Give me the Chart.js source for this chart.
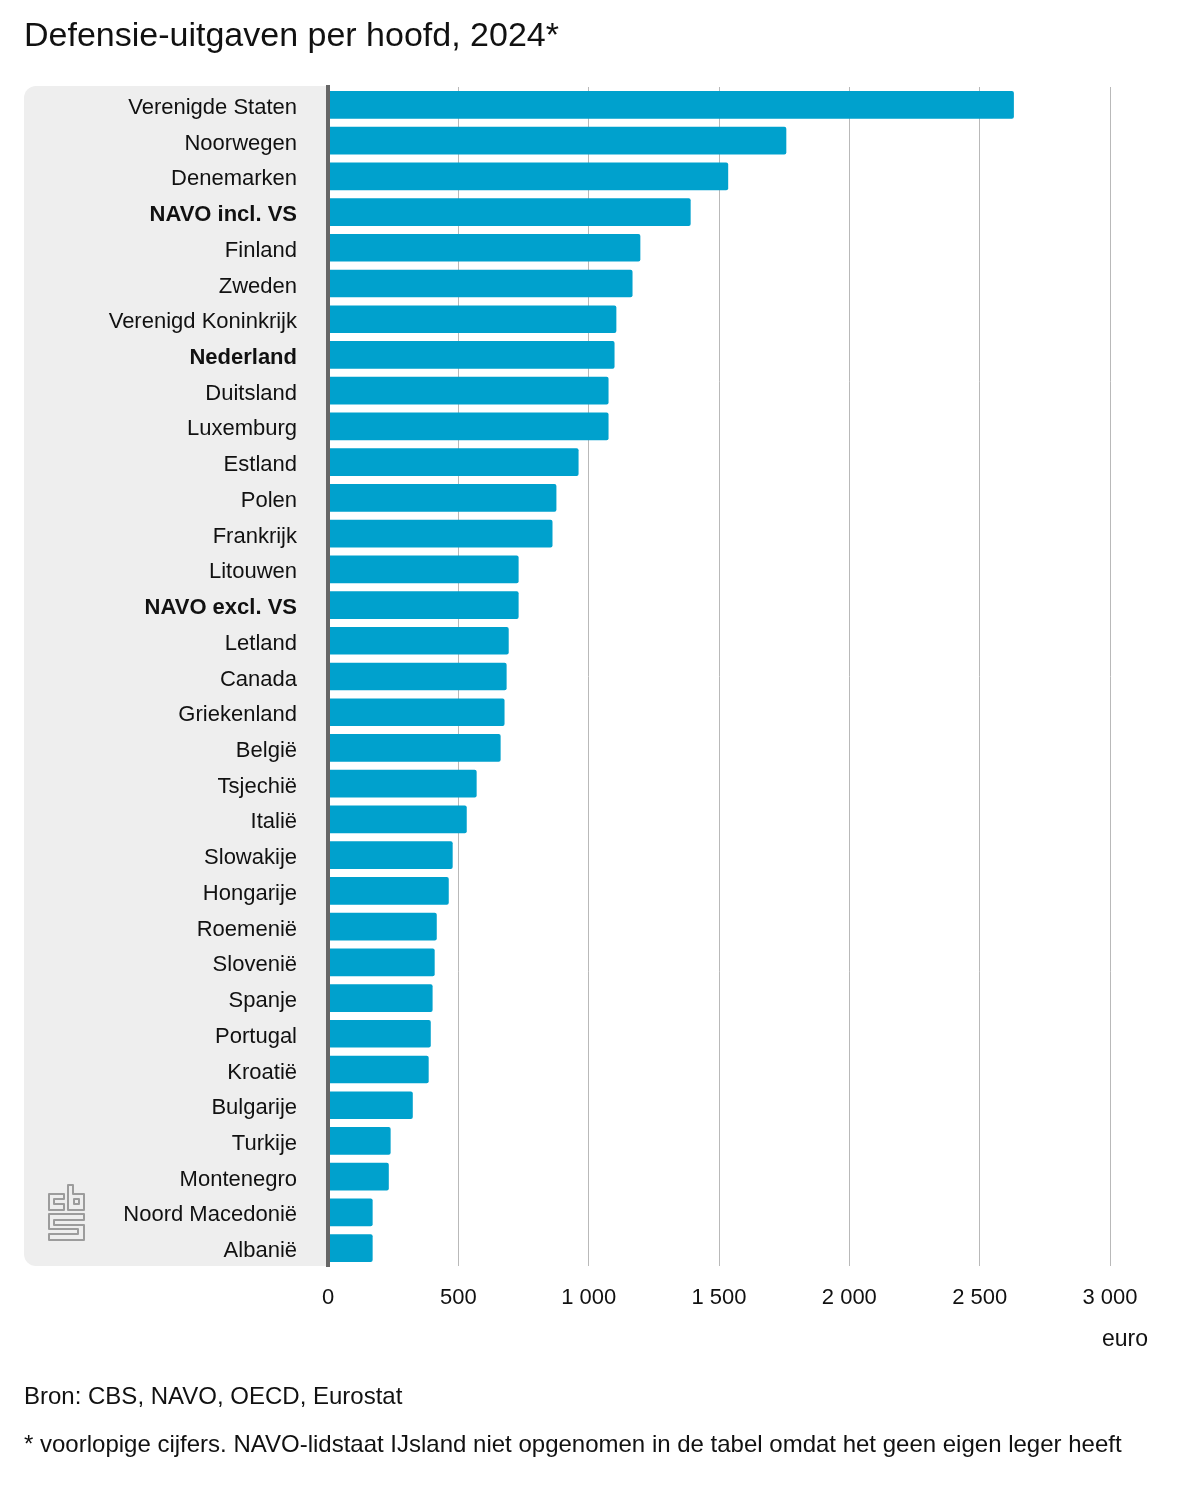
<!DOCTYPE html>
<html lang="nl">
<head>
<meta charset="utf-8">
<title>Defensie-uitgaven per hoofd, 2024</title>
<script src="https://cdn.jsdelivr.net/npm/chart.js@4/dist/chart.umd.min.js"></script>
<style>
  html, body { margin: 0; padding: 0; background: #fff; }
  body { position: relative; width: 1200px; height: 1500px; overflow: hidden; font-family: "Liberation Sans", sans-serif; color: #111; }
  canvas { position: absolute; left: 0; top: 0; }
  .txt { position: absolute; white-space: nowrap; line-height: 1; }
</style>
</head>
<body>
<canvas id="grafiek" width="1200" height="1500"></canvas>
<div class="txt" style="left:24px;top:17px;font-size:34px">Defensie-uitgaven per hoofd, 2024*</div>
<div class="txt" style="right:52px;top:1327px;font-size:23px">euro</div>
<div class="txt" style="left:24px;top:1384px;font-size:24px">Bron: CBS, NAVO, OECD, Eurostat</div>
<div class="txt" style="left:24px;top:1432px;font-size:24px">* voorlopige cijfers. NAVO-lidstaat IJsland niet opgenomen in de tabel omdat het geen eigen leger heeft</div>
<script>
const landen = ["Verenigde Staten", "Noorwegen", "Denemarken", "NAVO incl. VS", "Finland", "Zweden",
  "Verenigd Koninkrijk", "Nederland", "Duitsland", "Luxemburg", "Estland", "Polen", "Frankrijk",
  "Litouwen", "NAVO excl. VS", "Letland", "Canada", "Griekenland", "België", "Tsjechië", "Italië",
  "Slowakije", "Hongarije", "Roemenië", "Slovenië", "Spanje", "Portugal", "Kroatië", "Bulgarije",
  "Turkije", "Montenegro", "Noord Macedonië", "Albanië"];
const uitgaven = [2630, 1757, 1534, 1390, 1197, 1167, 1105, 1098, 1075, 1075, 960, 875, 860,
  730, 730, 692, 684, 676, 661, 569, 531, 477, 462, 416, 408, 400, 393, 385, 324, 239, 232, 170, 170];
const vet = ["NAVO incl. VS", "Nederland", "NAVO excl. VS"];
const xTicks = [0, 500, 1000, 1500, 2000, 2500, 3000];

// grijs vlak achter de labels + cbs logo
const achtergrond = {
  id: "achtergrond",
  beforeDraw(chart) {
    const c = chart.ctx, a = chart.chartArea;
    c.save();
    c.fillStyle = "#eeeeee";
    c.beginPath();
    c.roundRect(24, 86, a.left - 24, a.bottom - 86, [12, 0, 0, 12]);
    c.fill();
    c.strokeStyle = "#9c9c9c";
    c.lineWidth = 2;
    c.lineJoin = "round";
    c.beginPath();
    // c
    c.moveTo(49, 1194); c.lineTo(64, 1194); c.lineTo(64, 1199); c.lineTo(54, 1199); c.lineTo(54, 1204); c.lineTo(64, 1204); c.lineTo(64, 1210); c.lineTo(49, 1210); c.closePath();
    // b
    c.moveTo(68, 1185); c.lineTo(73, 1185); c.lineTo(73, 1194); c.lineTo(84, 1194); c.lineTo(84, 1210); c.lineTo(68, 1210); c.closePath();
    c.rect(74, 1199, 5, 5);
    // s
    c.moveTo(49, 1214); c.lineTo(84, 1214); c.lineTo(84, 1220); c.lineTo(54, 1220); c.lineTo(54, 1225); c.lineTo(84, 1225); c.lineTo(84, 1240); c.lineTo(49, 1240); c.lineTo(49, 1234); c.lineTo(78, 1234); c.lineTo(78, 1229); c.lineTo(49, 1229); c.closePath();
    c.stroke();
    c.restore();
  }
};

new Chart(document.getElementById("grafiek").getContext("2d"), {
  type: "bar",
  data: {
    labels: landen,
    datasets: [{
      data: uitgaven,
      backgroundColor: "#00a1cd",
      barThickness: 27,
      borderRadius: 2,
      borderSkipped: "start"
    }]
  },
  plugins: [achtergrond],
  options: {
    indexAxis: "y",
    responsive: false,
    animation: false,
    devicePixelRatio: 1,
    layout: { padding: { top: 87, right: 90, left: 0, bottom: 0 } },
    plugins: { legend: { display: false }, tooltip: { enabled: false } },
    scales: {
      x: {
        min: 0,
        max: 3000,
        afterFit(s) { s.height = 234; },
        afterBuildTicks(s) { s.ticks = xTicks.map(v => ({ value: v })); },
        border: { display: false },
        grid: {
          color: c => c.tick && c.tick.value === 0 ? "rgba(0,0,0,0)" : "#b9b9b9",
          lineWidth: 1,
          drawTicks: false
        },
        ticks: {
          padding: 19,
          maxRotation: 0,
          color: "#111",
          font: { family: "Liberation Sans", size: 22 },
          callback: v => String(v).replace(/\B(?=(\d{3})+$)/g, " ")
        }
      },
      y: {
        afterFit(s) { s.width = 328; },
        border: { display: true, color: "#666", width: 4, z: 1 },
        grid: { display: false, drawTicks: false },
        ticks: {
          autoSkip: false,
          padding: 31,
          labelOffset: 3,
          color: "#111",
          font: c => ({
            family: "Liberation Sans",
            size: 22,
            weight: vet.includes(landen[c.index]) ? "bold" : "normal"
          })
        }
      }
    }
  }
});
</script>
</body>
</html>
